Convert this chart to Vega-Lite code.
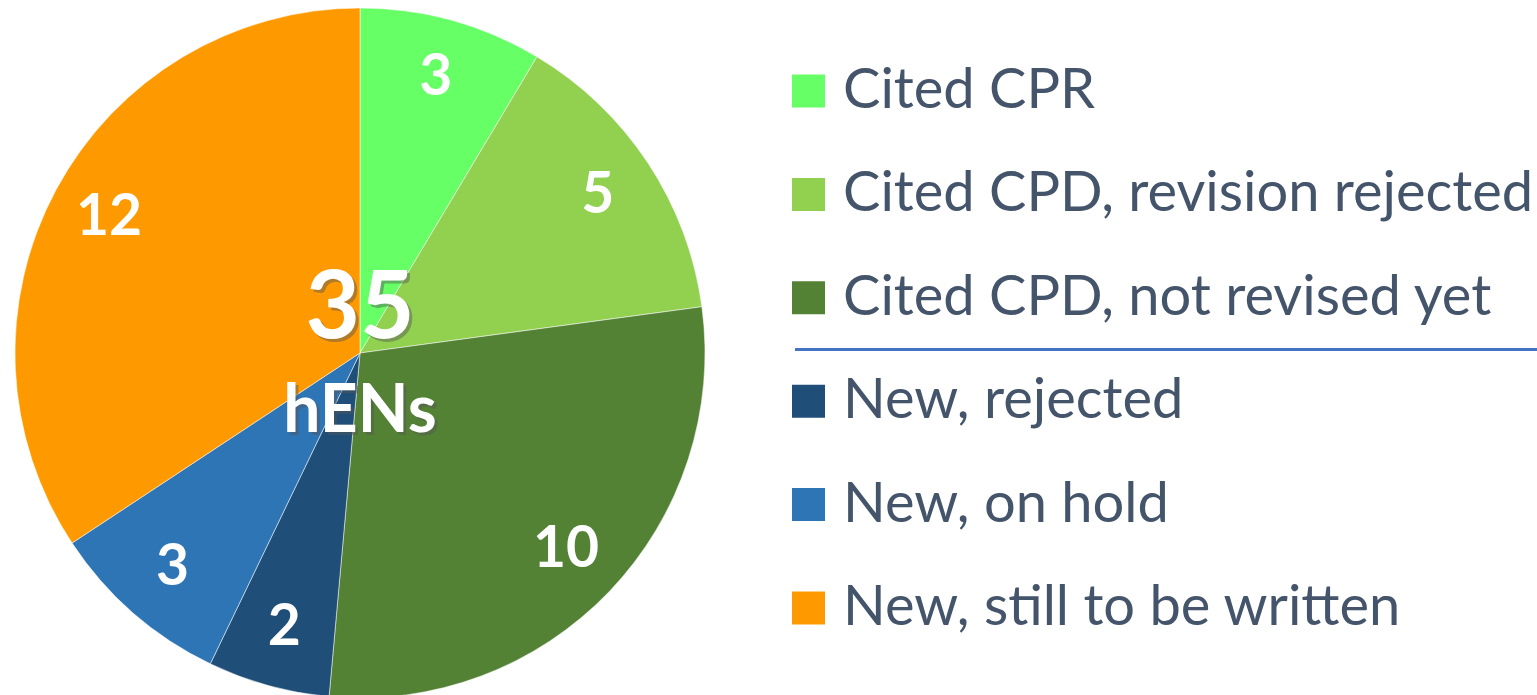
{
  "$schema": "https://vega.github.io/schema/vega-lite/v6.json",
  "padding": 0,
  "background": "white",
  "spacing": 0,
  "config": {"view": {"stroke": null}, "concat": {"spacing": 0}},
  "datasets": {
    "slices": [
      {"order": 1, "category": "Cited CPR", "group": "Cited", "count": 3},
      {"order": 2, "category": "Cited CPD, revision rejected", "group": "Cited", "count": 5},
      {"order": 3, "category": "Cited CPD, not revised yet", "group": "Cited", "count": 10},
      {"order": 4, "category": "New, rejected", "group": "New", "count": 2},
      {"order": 5, "category": "New, on hold", "group": "New", "count": 3},
      {"order": 6, "category": "New, still to be written", "group": "New", "count": 12}
    ],
    "separator": [{"between": 3.5}]
  },
  "hconcat": [
    {
      "width": 720,
      "height": 706,
      "data": {"name": "slices"},
      "layer": [
        {
          "mark": {"type": "arc", "outerRadius": 345, "stroke": "white", "strokeWidth": 0.5},
          "encoding": {
            "theta": {"field": "count", "type": "quantitative", "stack": true},
            "order": {"field": "order", "type": "quantitative"},
            "color": {
              "field": "category", "type": "nominal", "legend": null,
              "scale": {
                "domain": ["Cited CPR", "Cited CPD, revision rejected", "Cited CPD, not revised yet", "New, rejected", "New, on hold", "New, still to be written"],
                "range": ["#66FF66", "#92D050", "#548235", "#1F4E79", "#2E75B6", "#FF9900"]
              }
            }
          }
        },
        {
          "mark": {"type": "text", "radius": 285, "fontSize": 57, "fontWeight": "bold", "font": "Lato", "fill": "white", "baseline": "middle", "align": "center"},
          "encoding": {
            "theta": {"field": "count", "type": "quantitative", "stack": true},
            "order": {"field": "order", "type": "quantitative"},
            "text": {"field": "count", "type": "quantitative"}
          }
        },
        {
          "transform": [{"aggregate": [{"op": "sum", "field": "count", "as": "total"}]}],
          "mark": {"type": "text", "fontSize": 94, "fontWeight": "bold", "font": "Lato", "fill": "#555555", "opacity": 0.45, "baseline": "middle", "align": "center", "dx": 3, "dy": -40},
          "encoding": {"text": {"field": "total", "type": "quantitative"}}
        },
        {
          "transform": [{"aggregate": [{"op": "sum", "field": "count", "as": "total"}]}],
          "mark": {"type": "text", "fontSize": 94, "fontWeight": "bold", "font": "Lato", "fill": "white", "baseline": "middle", "align": "center", "dx": 0, "dy": -43},
          "encoding": {"text": {"field": "total", "type": "quantitative"}}
        },
        {
          "transform": [{"aggregate": [{"op": "sum", "field": "count", "as": "total"}]}, {"calculate": "'hENs'", "as": "unit"}],
          "mark": {"type": "text", "fontSize": 66, "fontWeight": "bold", "font": "Lato", "fill": "#555555", "opacity": 0.45, "baseline": "middle", "align": "center", "dx": 3, "dy": 62},
          "encoding": {"text": {"field": "unit", "type": "nominal"}}
        },
        {
          "transform": [{"aggregate": [{"op": "sum", "field": "count", "as": "total"}]}, {"calculate": "'hENs'", "as": "unit"}],
          "mark": {"type": "text", "fontSize": 66, "fontWeight": "bold", "font": "Lato", "fill": "white", "baseline": "middle", "align": "center", "dx": 0, "dy": 59},
          "encoding": {"text": {"field": "unit", "type": "nominal"}}
        }
      ]
    },
    {
      "width": 817,
      "height": 706,
      "layer": [
        {
          "data": {"name": "slices"},
          "mark": {"type": "square", "size": 1089, "opacity": 1},
          "encoding": {
            "x": {"datum": 88.5, "type": "quantitative", "scale": {"domain": [0, 817], "nice": false, "zero": false}, "axis": null},
            "y": {"field": "order", "type": "quantitative", "scale": {"domain": [0.12, 6.948], "nice": false, "zero": false, "reverse": true}, "axis": null},
            "color": {
              "field": "category", "type": "nominal", "legend": null,
              "scale": {
                "domain": ["Cited CPR", "Cited CPD, revision rejected", "Cited CPD, not revised yet", "New, rejected", "New, on hold", "New, still to be written"],
                "range": ["#66FF66", "#92D050", "#548235", "#1F4E79", "#2E75B6", "#FF9900"]
              }
            }
          }
        },
        {
          "data": {"name": "slices"},
          "mark": {"type": "text", "font": "Lato", "fontSize": 56, "fill": "#44546A", "align": "left", "baseline": "middle"},
          "encoding": {
            "x": {"datum": 123, "type": "quantitative"},
            "y": {"field": "order", "type": "quantitative"},
            "text": {"field": "category", "type": "nominal"}
          }
        },
        {
          "data": {"name": "separator"},
          "mark": {"type": "rule", "color": "#4472C4", "strokeWidth": 3},
          "encoding": {
            "x": {"datum": 75, "type": "quantitative"},
            "x2": {"datum": 817},
            "y": {"field": "between", "type": "quantitative"}
          }
        }
      ]
    }
  ]
}
